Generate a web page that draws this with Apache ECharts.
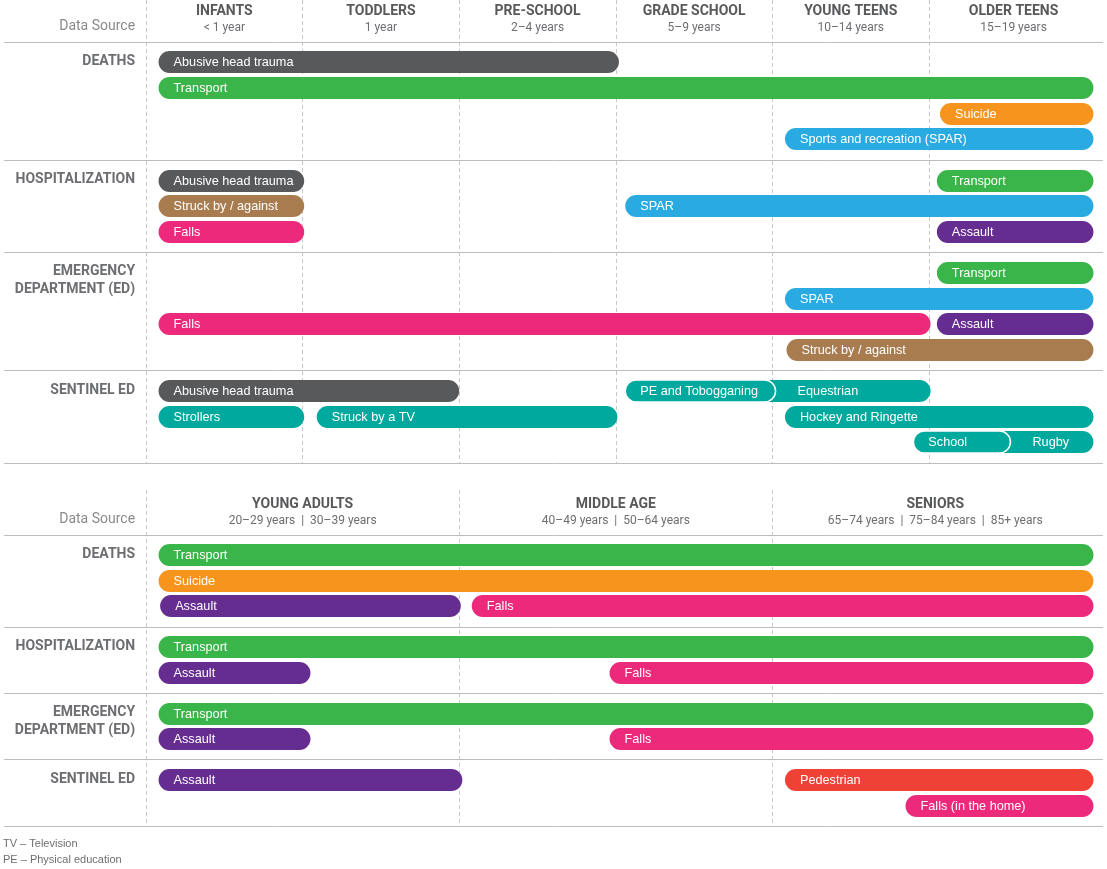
<!DOCTYPE html>
<html>
<head>
<meta charset="utf-8">
<title>Injury causes by age group and data source</title>
<script src="https://cdn.jsdelivr.net/npm/echarts@6.0.0/dist/echarts.min.js"></script>
<style>
html, body { margin: 0; padding: 0; background: #fff; }
#main { width: 1107px; height: 869px; }
</style>
</head>
<body>
<div id="main"></div>
<script>
// age bands -- top panel: children/teens, bottom panel: adults
const topGroups = ['INFANTS', 'TODDLERS', 'PRE-SCHOOL', 'GRADE SCHOOL', 'YOUNG TEENS', 'OLDER TEENS'];
const topAges = ['< 1 year', '1 year', '2–4 years', '5–9 years', '10–14 years', '15–19 years'];
const topEdges = [0, 1, 2, 3, 4, 5, 6.08];

const bottomGroups = ['YOUNG ADULTS', 'MIDDLE AGE', 'SENIORS'];
const bottomAges = ['20–29 years  |  30–39 years', '40–49 years  |  50–64 years', '65–74 years  |  75–84 years  |  85+ years'];
const bottomEdges = [0, 2, 4, 6.08];

const sources = ['DEATHS', 'HOSPITALIZATION', 'EMERGENCY\nDEPARTMENT (ED)', 'SENTINEL ED'];
const topLanes = [4, 3, 4, 3];
const bottomLanes = [3, 2, 2, 2];

// [source, lane, from, to, label, cause]   from/to in age-band units
const topBars = [
  [0, 0, 0.08, 3.02, 'Abusive head trauma', 'aht'],
  [0, 1, 0.08, 6.05, 'Transport', 'transport'],
  [0, 2, 5.07, 6.05, 'Suicide', 'suicide'],
  [0, 3, 4.08, 6.05, 'Sports and recreation (SPAR)', 'spar'],
  [1, 0, 0.08, 1.01, 'Abusive head trauma', 'aht'],
  [1, 0, 5.05, 6.05, 'Transport', 'transport'],
  [1, 1, 0.08, 1.01, 'Struck by / against', 'struck'],
  [1, 1, 3.06, 6.05, 'SPAR', 'spar'],
  [1, 2, 0.08, 1.01, 'Falls', 'falls'],
  [1, 2, 5.05, 6.05, 'Assault', 'assault'],
  [2, 0, 5.05, 6.05, 'Transport', 'transport'],
  [2, 1, 4.08, 6.05, 'SPAR', 'spar'],
  [2, 2, 0.08, 5.01, 'Falls', 'falls'],
  [2, 2, 5.05, 6.05, 'Assault', 'assault'],
  [2, 3, 4.09, 6.05, 'Struck by / against', 'struck'],
  [3, 0, 0.08, 2.0, 'Abusive head trauma', 'aht'],
  [3, 0, 3.9, 5.01, 'Equestrian', 'sentinel'],
  [3, 0, 3.06, 4.02, 'PE and Tobogganing', 'sentinel'],
  [3, 1, 0.08, 1.01, 'Strollers', 'sentinel'],
  [3, 1, 1.09, 3.01, 'Struck by a TV', 'sentinel'],
  [3, 1, 4.08, 6.05, 'Hockey and Ringette', 'sentinel'],
  [3, 2, 5.4, 6.05, 'Rugby', 'sentinel'],
  [3, 2, 4.9, 5.52, 'School', 'sentinel']
];

const bottomBars = [
  [0, 0, 0.08, 6.05, 'Transport', 'transport'],
  [0, 1, 0.08, 6.05, 'Suicide', 'suicide'],
  [0, 2, 0.09, 2.01, 'Assault', 'assault'],
  [0, 2, 2.08, 6.05, 'Falls', 'falls'],
  [1, 0, 0.08, 6.05, 'Transport', 'transport'],
  [1, 1, 0.08, 1.05, 'Assault', 'assault'],
  [1, 1, 2.96, 6.05, 'Falls', 'falls'],
  [2, 0, 0.08, 6.05, 'Transport', 'transport'],
  [2, 1, 0.08, 1.05, 'Assault', 'assault'],
  [2, 1, 2.96, 6.05, 'Falls', 'falls'],
  [3, 0, 0.08, 2.02, 'Assault', 'assault'],
  [3, 0, 4.08, 6.05, 'Pedestrian', 'pedestrian'],
  [3, 1, 4.85, 6.05, 'Falls (in the home)', 'falls']
];

const causeColors = {
  aht: '#58595b',
  transport: '#39b54a',
  suicide: '#f7941d',
  spar: '#29abe2',
  struck: '#a97c50',
  falls: '#ec297b',
  assault: '#662d91',
  sentinel: '#00a99d',
  pedestrian: '#ef4136'
};

const DIN = 'Roboto, "Noto Sans", sans-serif';
const BARFONT = '"Liberation Sans", Arial, sans-serif';

// y units = one lane; each section gets 0.6 lane of padding
function makeLayout(lanes) {
  const tops = [];
  let y = 0;
  lanes.forEach(n => { tops.push(y); y += n + 0.6; });
  return { tops: tops, total: y, ends: tops.map((t, i) => t + lanes[i] + 0.6) };
}
const topLayout = makeLayout(topLanes);
const bottomLayout = makeLayout(bottomLanes);
const laneY = (lay, s, lane) => lay.tops[s] + 0.8 + lane;

function barSeries(bars, lay, idx) {
  return {
    type: 'custom',
    xAxisIndex: idx,
    yAxisIndex: idx,
    z: 3,
    silent: true,
    data: bars.map((b, i) => [b[2], b[3], laneY(lay, b[0], b[1]), i]),
    encode: { x: [0, 1], y: 2 },
    renderItem: function (params, api) {
      const b = bars[params.dataIndex];
      const y = api.value(2);
      const p0 = api.coord([b[2], y]);
      const p1 = api.coord([b[3], y]);
      const h = Math.round(api.size([0, 1])[1] * 0.86);
      const sameLane = bars.filter(o => o !== b && o[0] === b[0] && o[1] === b[1]);
      // a bar whose start is hidden under another one gets its label after that one
      const under = sameLane.find(o => o[2] < b[2] && o[3] > b[2]);
      const over = sameLane.some(o => o[2] > b[2] && o[2] < b[3]);
      let tx = p0[0] + 15;
      if (under) tx = api.coord([under[3], y])[0] + 22;
      return {
        type: 'group',
        children: [
          {
            type: 'rect',
            z2: over ? 10 : 1,
            shape: { x: p0[0], y: Math.round(p0[1] - h / 2), width: p1[0] - p0[0], height: h, r: h / 2 },
            style: { fill: causeColors[b[5]], stroke: over ? '#fff' : null, lineWidth: over ? 1.5 : 0 }
          },
          {
            type: 'text',
            z2: 20,
            style: {
              text: b[4], x: tx, y: Math.round(p0[1]),
              fill: '#fff', fontSize: 12.7, fontFamily: BARFONT,
              verticalAlign: 'middle'
            }
          }
        ]
      };
    }
  };
}

// column titles, plus the grid lines (markLine z kept low so they sit under the bars)
function headerSeries(groups, ages, edges, lay, idx) {
  const items = groups.map((g, i) => [(edges[i] + edges[i + 1]) / 2, 0, i]);
  const dividers = edges.slice(0, -1);
  return {
    type: 'custom',
    xAxisIndex: idx,
    yAxisIndex: idx,
    z: 1,
    silent: true,
    data: items,
    encode: { x: 0, y: 1 },
    renderItem: function (params, api) {
      const i = params.dataIndex;
      const p = api.coord([api.value(0), 0]);
      return {
        type: 'group',
        children: [
          {
            type: 'text',
            style: {
              text: groups[i], x: p[0], y: p[1] - 30, textAlign: 'center', verticalAlign: 'middle',
              fill: '#58595b', fontSize: 14, fontWeight: 'bold', fontFamily: DIN
            }
          },
          {
            type: 'text',
            style: {
              text: ages[i], x: p[0], y: p[1] - 14, textAlign: 'center', verticalAlign: 'middle',
              fill: '#6d6e71', fontSize: 12, fontFamily: DIN
            }
          }
        ]
      };
    },
    markLine: {
      z: 0,
      silent: true,
      symbol: ['none', 'none'],
      label: { show: false },
      animation: false,
      data: dividers.map(v => ({ xAxis: v, lineStyle: { color: '#c8c8c8', width: 1, type: [4, 3] } }))
        .concat([0].concat(lay.ends).map(v => ({ yAxis: v, lineStyle: { color: '#bdbdbd', width: 1, type: 'solid' } })))
    }
  };
}

function sourceSeries(lay, idx) {
  const items = sources.map((s, i) => [-0.07, laneY(lay, i, 0), i]);
  items.push([-0.07, 0, -1]);
  return {
    type: 'custom',
    xAxisIndex: idx,
    yAxisIndex: idx,
    z: 1,
    silent: true,
    data: items,
    encode: { x: 0, y: 1 },
    renderItem: function (params, api) {
      const i = api.value(2);
      const p = api.coord([api.value(0), api.value(1)]);
      if (i < 0) {
        return {
          type: 'text',
          style: {
            text: 'Data Source', x: p[0], y: p[1] - 15, textAlign: 'right', verticalAlign: 'middle',
            fill: '#8a8a8a', fontSize: 14, fontFamily: DIN
          }
        };
      }
      return {
        type: 'text',
        style: {
          text: sources[i], x: p[0], y: p[1] - 10, textAlign: 'right', verticalAlign: 'top',
          lineHeight: 18, fill: '#6d6e71', fontSize: 14, fontWeight: 'bold', fontFamily: DIN
        }
      };
    }
  };
}

const chart = echarts.init(document.getElementById('main'));
// one age band = 156.6px, band 0 starts at x=146
const xMin = -0.907, xMax = 6.111;

const option = {
  animation: false,
  backgroundColor: '#fff',
  title: {
    text: 'TV – Television\nPE – Physical education',
    left: 3,
    top: 836,
    padding: 0,
    textStyle: { fontSize: 11, lineHeight: 16, fontWeight: 'normal', color: '#6d6e71', fontFamily: BARFONT }
  },
  grid: [
    { left: 4, right: 4, top: 0, height: 463 },
    { left: 4, right: 4, top: 490, height: 336 }
  ],
  xAxis: [
    { type: 'value', gridIndex: 0, min: xMin, max: xMax, show: false },
    { type: 'value', gridIndex: 1, min: xMin, max: xMax, show: false }
  ],
  yAxis: [
    { type: 'value', gridIndex: 0, inverse: true, min: -1.63, max: topLayout.total, show: false },
    { type: 'value', gridIndex: 1, inverse: true, min: -1.76, max: bottomLayout.total, show: false }
  ],
  series: [
    headerSeries(topGroups, topAges, topEdges, topLayout, 0),
    headerSeries(bottomGroups, bottomAges, bottomEdges, bottomLayout, 1),
    sourceSeries(topLayout, 0),
    sourceSeries(bottomLayout, 1),
    barSeries(topBars, topLayout, 0),
    barSeries(bottomBars, bottomLayout, 1)
  ]
};
chart.setOption(option);
</script>
</body>
</html>
